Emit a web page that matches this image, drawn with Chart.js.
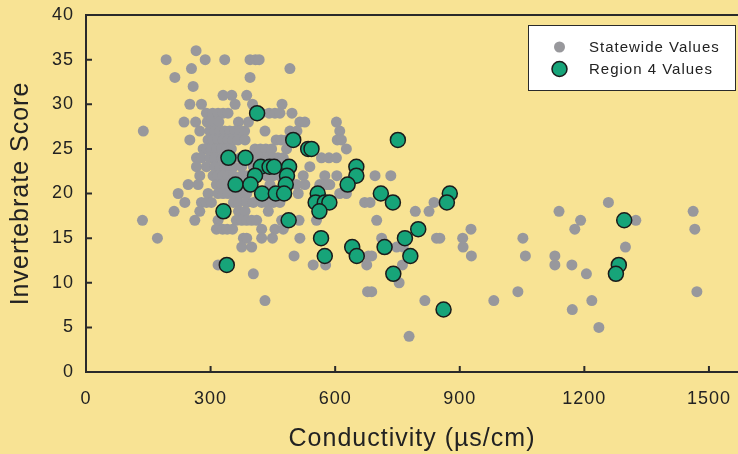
<!DOCTYPE html>
<html>
<head>
<meta charset="utf-8">
<script src="https://cdn.jsdelivr.net/npm/chart.js@4.4.0/dist/chart.umd.min.js"></script>
<style>
  html, body { margin: 0; padding: 0; background: #f8e394; }
  #wrap { width: 738px; height: 454px; position: relative; }
</style>
</head>
<body>
<div id="wrap"><canvas id="scatter" width="738" height="454"></canvas></div>
<script>
// statewide sites: conductivity (us/cm) and invertebrate score, grouped by score
const statewideCond = [
  265,
  193, 287, 334, 395, 408, 417,
  254, 491,
  214, 395,
  258,
  330, 351, 387,
  250, 278, 359, 401, 472,
  290, 305, 318, 330, 342, 423, 441, 455, 467, 496,
  236, 264, 292, 302, 320, 367, 391, 515, 527, 603,
  138, 274, 298, 310, 322, 334, 346, 358, 370, 382, 431, 491, 508, 611,
  250, 294, 306, 318, 330, 342, 354, 366, 383, 458, 470, 483, 605, 615,
  282, 292, 302, 314, 326, 338, 350, 407, 420, 433, 447, 483, 627,
  266, 278, 298, 310, 328, 371, 407, 420, 435, 450, 462, 475, 567, 585, 603,
  266, 290, 310, 322, 334, 346, 355, 375, 403, 539,
  274, 306, 318, 330, 342, 355, 375, 387, 435, 451, 467, 523, 575, 604, 696, 734,
  246, 270, 314, 326, 338, 355, 443, 507, 527, 563, 579, 587,
  222, 294, 318, 330, 342, 355, 367, 375, 387, 435, 511, 611, 627,
  238, 278, 290, 302, 355, 367, 387, 403, 423, 435, 451, 467, 671, 684, 838, 1258,
  212, 274, 367, 383, 439, 793, 826, 1139, 1462,
  136, 262, 318, 362, 375, 387, 399, 411, 471, 513, 555, 700, 1191, 1324,
  314, 329, 340, 353, 423, 455, 475, 927, 1177, 1466,
  172, 379, 387, 423, 449, 515, 712, 844, 852, 907, 1052,
  375, 399, 748, 764, 908, 1299,
  501, 680, 688, 928, 1058, 1129,
  318, 547, 577, 676, 762, 1129, 1170,
  403, 1205,
  754,
  678, 688, 1040, 1471,
  431, 816, 982, 1218,
  1171,
  1235,
  778
];
const statewideScore = [
  36,
  35, 35, 35, 35, 35, 35,
  34, 34,
  33, 33,
  32,
  31, 31, 31,
  30, 30, 30, 30, 30,
  29, 29, 29, 29, 29, 29, 29, 29, 29, 29,
  28, 28, 28, 28, 28, 28, 28, 28, 28, 28,
  27, 27, 27, 27, 27, 27, 27, 27, 27, 27, 27, 27, 27, 27,
  26, 26, 26, 26, 26, 26, 26, 26, 26, 26, 26, 26, 26, 26,
  25, 25, 25, 25, 25, 25, 25, 25, 25, 25, 25, 25, 25,
  24, 24, 24, 24, 24, 24, 24, 24, 24, 24, 24, 24, 24, 24, 24,
  23, 23, 23, 23, 23, 23, 23, 23, 23, 23,
  22, 22, 22, 22, 22, 22, 22, 22, 22, 22, 22, 22, 22, 22, 22, 22,
  21, 21, 21, 21, 21, 21, 21, 21, 21, 21, 21, 21,
  20, 20, 20, 20, 20, 20, 20, 20, 20, 20, 20, 20, 20,
  19, 19, 19, 19, 19, 19, 19, 19, 19, 19, 19, 19, 19, 19, 19, 19,
  18, 18, 18, 18, 18, 18, 18, 18, 18,
  17, 17, 17, 17, 17, 17, 17, 17, 17, 17, 17, 17, 17, 17,
  16, 16, 16, 16, 16, 16, 16, 16, 16, 16,
  15, 15, 15, 15, 15, 15, 15, 15, 15, 15, 15,
  14, 14, 14, 14, 14, 14,
  13, 13, 13, 13, 13, 13,
  12, 12, 12, 12, 12, 12, 12,
  11, 11,
  10,
  9, 9, 9, 9,
  8, 8, 8, 8,
  7,
  5,
  4
];

// region 4 sites
const regionCond = [
  412, 499, 751, 535, 543, 343, 384,
  421, 442, 453, 489, 651,
  407, 484, 651,
  360, 396, 481, 630,
  424, 457, 477, 558, 710, 876,
  553, 575, 586, 739, 869,
  562, 331,
  488, 1296,
  800,
  566, 768,
  641, 719,
  575, 652, 781,
  339, 1283,
  740, 1276,
  861
];
const regionScore = [
  29, 26, 26, 25, 25, 24, 24,
  23, 23, 23, 23, 23,
  22, 22, 22,
  21, 21, 21, 21,
  20, 20, 20, 20, 20, 20,
  19, 19, 19, 19, 19,
  18, 18,
  17, 17,
  16,
  15, 15,
  14, 14,
  13, 13, 13,
  12, 12,
  11, 11,
  7
];

const xTickValues = [0, 300, 600, 900, 1200, 1500];
const yTickValues = [0, 5, 10, 15, 20, 25, 30, 35, 40];
const seriesNames = ['Statewide Values', 'Region 4 Values'];

const toPoints = (xs, ys) => xs.map((x, i) => ({ x: x, y: ys[i] }));

const inkColor = '#2a2a2a';

// short tick marks pointing into the plot, plus the top frame line
const frameTicks = {
  id: 'frameTicks',
  beforeDatasetsDraw(chart) {
    const { ctx, chartArea, scales } = chart;
    ctx.save();
    ctx.strokeStyle = inkColor;
    ctx.lineWidth = 2;
    ctx.beginPath();
    ctx.moveTo(chartArea.left - 1, chartArea.top);
    ctx.lineTo(chartArea.right, chartArea.top);
    scales.x.ticks.forEach(t => {
      if (t.value === 0) return;
      const px = scales.x.getPixelForValue(t.value);
      ctx.moveTo(px, chartArea.bottom);
      ctx.lineTo(px, chartArea.bottom - 6);
    });
    scales.y.ticks.forEach(t => {
      if (t.value === 0) return;
      const py = scales.y.getPixelForValue(t.value);
      ctx.moveTo(chartArea.left, py);
      ctx.lineTo(chartArea.left + 6, py);
    });
    ctx.stroke();
    ctx.restore();
  }
};

// boxed legend in the upper right corner
const boxLegend = {
  id: 'boxLegend',
  afterDatasetsDraw(chart) {
    const ctx = chart.ctx;
    const box = { x: 528, y: 25, w: 207, h: 65 };
    ctx.save();
    ctx.fillStyle = '#ffffff';
    ctx.fillRect(box.x, box.y, box.w, box.h);
    ctx.strokeStyle = inkColor;
    ctx.lineWidth = 1;
    ctx.strokeRect(box.x + 0.5, box.y + 0.5, box.w, box.h);
    const rows = [47, 69];
    chart.data.datasets.forEach((ds, i) => {
      const cy = rows[i];
      ctx.beginPath();
      ctx.arc(559.5, cy, ds.pointRadius, 0, Math.PI * 2);
      ctx.fillStyle = ds.backgroundColor;
      ctx.fill();
      if (ds.borderWidth) {
        ctx.lineWidth = ds.borderWidth;
        ctx.strokeStyle = ds.borderColor;
        ctx.stroke();
      }
      ctx.fillStyle = '#222';
      ctx.font = '15px "Liberation Sans", Arial, sans-serif';
      ctx.textBaseline = 'middle';
      ctx.fillText(ds.label, 589, cy + 1);
    });
    ctx.restore();
  }
};

// slightly spaced lettering for all text on the canvas
const spacing = {
  id: 'spacing',
  beforeUpdate(chart) { chart.ctx.letterSpacing = '1px'; },
  beforeDraw(chart) { chart.ctx.letterSpacing = '1px'; }
};

Chart.defaults.font.family = '"Liberation Sans", Arial, sans-serif';
Chart.defaults.color = '#222';

new Chart(document.getElementById('scatter'), {
  type: 'scatter',
  data: {
    datasets: [
      {
        label: seriesNames[0],
        data: toPoints(statewideCond, statewideScore),
        backgroundColor: '#98989c',
        borderWidth: 0,
        pointRadius: 5.5,
        order: 2
      },
      {
        label: seriesNames[1],
        data: toPoints(regionCond, regionScore),
        backgroundColor: '#17a479',
        borderColor: '#1b1b1b',
        borderWidth: 1.5,
        pointRadius: 7.5,
        order: 1
      }
    ]
  },
  options: {
    responsive: false,
    animation: false,
    events: [],
    layout: { autoPadding: false, padding: { top: 15, right: 0, left: 0, bottom: 0 } },
    plugins: {
      legend: { display: false },
      tooltip: { enabled: false }
    },
    scales: {
      x: {
        type: 'linear',
        min: 0,
        max: 1570,
        afterBuildTicks: s => { s.ticks = xTickValues.map(v => ({ value: v })); },
        afterFit: s => { s.height = 82; s.paddingLeft = 0; s.paddingRight = 0; },
        grid: { display: false, drawTicks: false },
        border: { display: true, color: inkColor, width: 2 },
        ticks: { padding: 16, font: { size: 18 }, maxRotation: 0, callback: v => String(v) },
        title: {
          display: true,
          text: 'Conductivity (\u00b5s/cm)',
          font: { size: 25 },
          padding: { top: 0, bottom: 0 }
        }
      },
      y: {
        type: 'linear',
        min: 0,
        max: 40,
        afterBuildTicks: s => { s.ticks = yTickValues.map(v => ({ value: v })); },
        afterFit: s => { s.width = 86; s.paddingTop = 0; s.paddingBottom = 0; },
        grid: { display: false, drawTicks: false },
        border: { display: true, color: inkColor, width: 2 },
        ticks: { padding: 12, font: { size: 18 }, callback: v => String(v) },
        title: {
          display: true,
          text: 'Invertebrate Score',
          font: { size: 25 },
          padding: { top: 6, bottom: 0 }
        }
      }
    }
  },
  plugins: [spacing, frameTicks, boxLegend]
});
</script>
</body>
</html>
